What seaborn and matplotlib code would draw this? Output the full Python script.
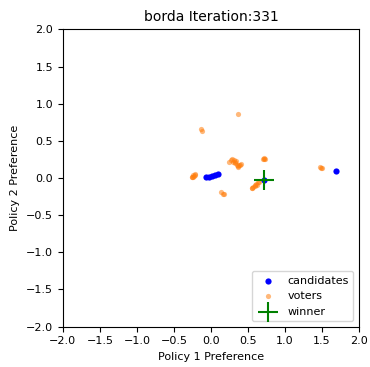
import matplotlib
matplotlib.use("Agg")
import matplotlib.pyplot as plt
import seaborn as sns

# candidate positions
cand_x = [-0.06, -0.02, 0.02, 0.06, 0.10, 0.72, 1.69]
cand_y = [0.01, 0.02, 0.03, 0.04, 0.05, -0.03, 0.10]

# voter positions (clusters)
voter_x = [-0.26, -0.24, -0.22, -0.25, -0.23, -0.24, -0.22,
           -0.13, -0.12,
           0.37,
           0.25, 0.28, 0.31, 0.33, 0.35, 0.37, 0.39, 0.30, 0.34, 0.36, 0.40,
           0.27, 0.32, 0.38,
           0.71, 0.72, 0.73, 0.72,
           0.14, 0.16, 0.18,
           0.55, 0.57, 0.59, 0.61, 0.63, 0.65, 0.60, 0.56, 0.62,
           1.48, 1.50, 1.49]
voter_y = [0.02, 0.04, 0.05, 0.01, 0.03, 0.02, 0.04,
           0.66, 0.63,
           0.86,
           0.22, 0.25, 0.24, 0.20, 0.18, 0.16, 0.17, 0.21, 0.23, 0.15, 0.19,
           0.24, 0.22, 0.18,
           0.25, 0.27, 0.26, 0.25,
           -0.19, -0.21, -0.22,
           -0.14, -0.12, -0.10, -0.08, -0.06, -0.05, -0.11, -0.13, -0.09,
           0.15, 0.13, 0.14]

winner_x = [0.72]
winner_y = [-0.03]

title = "borda Iteration:331"

fig, ax = plt.subplots(figsize=(3.7, 3.67), dpi=100)

sns.scatterplot(x=cand_x, y=cand_y, color="blue", s=20, linewidth=0,
                label="candidates", ax=ax, zorder=3)
sns.scatterplot(x=voter_x, y=voter_y, color="#ff7f0e", s=14, alpha=0.55,
                linewidth=0, label="voters", ax=ax, zorder=2)
ax.scatter(winner_x, winner_y, color="green", marker="+", s=200,
           linewidths=1.5, label="winner", zorder=4)

ax.set_xlim(-2, 2)
ax.set_ylim(-2, 2)
ax.set_title(title, fontsize=10)
ax.set_xlabel("Policy 1 Preference", fontsize=8)
ax.set_ylabel("Policy 2 Preference", fontsize=8)
ax.tick_params(labelsize=8)
ax.legend(loc="lower right", fontsize=8)

plt.subplots_adjust(left=0.17, right=0.97, top=0.92, bottom=0.11)
plt.savefig("out.png", dpi=100)
